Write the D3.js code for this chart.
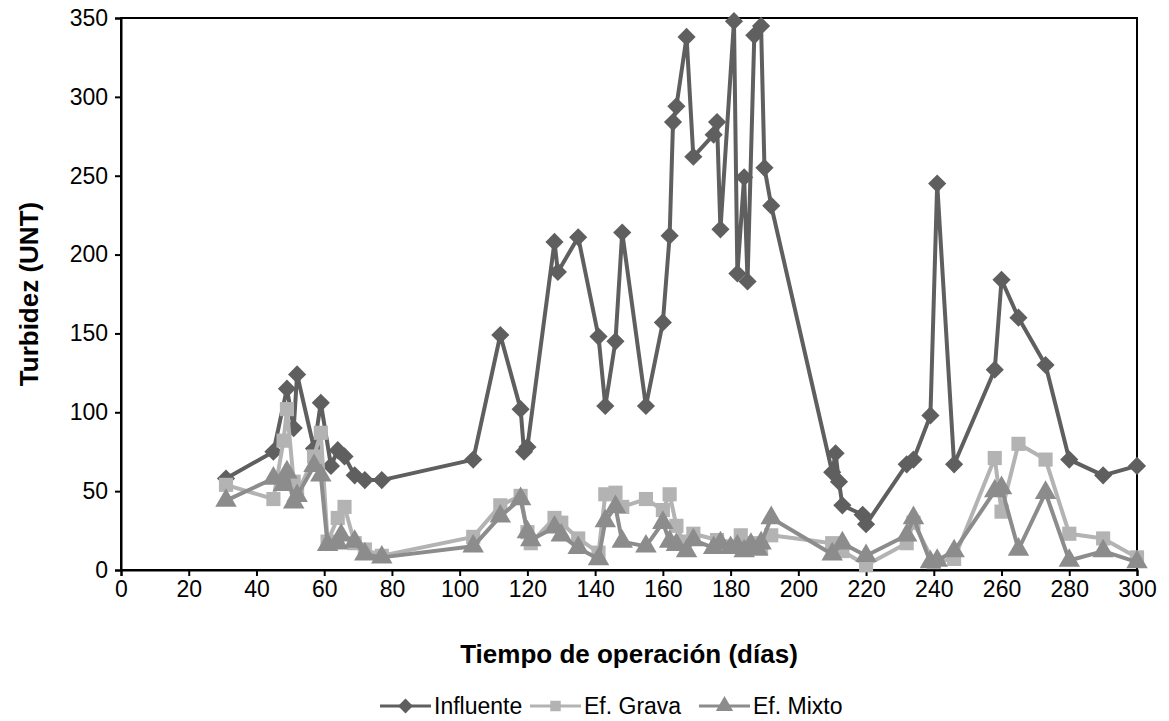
<!DOCTYPE html>
<html>
<head>
<meta charset="utf-8">
<script src="https://cdn.jsdelivr.net/npm/d3@7"></script>
<style>
  body { margin: 0; background: #fff; }
  svg { font-family: "Liberation Sans", Arial, sans-serif; }
</style>
</head>
<body>
<div id="chart"></div>
<script>
// Influente
var daysInf = [31, 45, 49, 51, 52, 57, 59, 62, 64, 66, 69, 72, 77, 104, 112, 118, 119, 120, 128, 129, 135, 141, 143, 146, 148, 155, 160, 162, 163, 164, 167, 169, 175, 176, 177, 181, 182, 184, 185, 187, 189, 190, 192, 210, 211, 212, 213, 219, 220, 232, 234, 239, 241, 246, 258, 260, 265, 273, 280, 290, 300];
var influente = [58, 75, 115, 90, 124, 77, 106, 66, 76, 72, 60, 57, 57, 70, 149, 102, 75, 78, 208, 189, 211, 148, 104, 145, 214, 104, 157, 212, 284, 294, 338, 262, 276, 284, 216, 348, 188, 249, 183, 339, 345, 255, 231, 62, 74, 56, 41, 35, 29, 67, 70, 98, 245, 67, 127, 184, 160, 130, 70, 60, 66];

// Ef. Grava
var daysGrava = [31, 45, 48, 49, 51, 52, 57, 59, 61, 64, 66, 69, 72, 77, 104, 112, 118, 120, 121, 128, 130, 135, 141, 143, 146, 148, 155, 160, 162, 164, 166, 169, 176, 180, 183, 186, 189, 192, 210, 213, 220, 232, 234, 240, 246, 258, 260, 265, 273, 280, 290, 300];
var grava = [54, 45, 82, 102, 56, 48, 72, 87, 18, 33, 40, 17, 13, 9, 21, 41, 47, 24, 17, 33, 30, 20, 11, 48, 49, 40, 45, 38, 48, 28, 18, 23, 19, 15, 22, 17, 14, 22, 17, 12, 3, 17, 30, 5, 7, 71, 37, 80, 70, 23, 20, 8];

// Ef. Mixto
var daysMixto = [31, 45, 48, 49, 51, 52, 57, 59, 61, 64, 65, 69, 72, 77, 104, 112, 118, 120, 121, 128, 130, 135, 141, 143, 146, 148, 155, 160, 162, 164, 167, 169, 175, 177, 180, 182, 184, 186, 188, 189, 192, 210, 213, 220, 232, 234, 239, 241, 246, 258, 260, 265, 273, 280, 290, 300];
var mixto = [44, 58, 54, 62, 43, 47, 66, 60, 16, 17, 22, 18, 10, 8, 15, 34, 45, 24, 19, 27, 22, 14, 7, 31, 40, 18, 15, 30, 18, 16, 12, 19, 14, 17, 14, 15, 12, 16, 13, 17, 33, 10, 17, 9, 22, 33, 5, 6, 12, 50, 52, 13, 49, 6, 12, 5];

var xTicks = [0, 20, 40, 60, 80, 100, 120, 140, 160, 180, 200, 220, 240, 260, 280, 300];
var yTicks = [0, 50, 100, 150, 200, 250, 300, 350];

var width = 1169, height = 721;
var margin = {left: 121, right: 32, top: 18, bottom: 151};
var font = '"Liberation Sans", Arial, sans-serif';

var svg = d3.select('#chart').append('svg').attr('width', width).attr('height', height);

var x = d3.scaleLinear().domain([0, 300]).range([margin.left, width - margin.right]);
var y = d3.scaleLinear().domain([0, 350]).range([height - margin.bottom, margin.top]);

// plot frame (top and right)
svg.append('rect')
   .attr('x', x(0)).attr('y', y(350))
   .attr('width', x(300) - x(0)).attr('height', y(0) - y(350))
   .attr('fill', 'none').attr('stroke', '#000').attr('stroke-width', 2);

var xAxis = svg.append('g')
   .attr('transform', 'translate(0,' + y(0) + ')')
   .call(d3.axisBottom(x).tickValues(xTicks).tickSize(6).tickPadding(5).tickFormat(d3.format('d')));
var yAxis = svg.append('g')
   .attr('transform', 'translate(' + x(0) + ',0)')
   .call(d3.axisLeft(y).tickValues(yTicks).tickSize(6).tickPadding(7).tickFormat(d3.format('d')));

[xAxis, yAxis].forEach(function(a) {
   a.attr('font-size', 23).attr('font-family', font);
   a.selectAll('path').attr('stroke', '#000').attr('stroke-width', 2);
   a.selectAll('line').attr('stroke', '#000').attr('stroke-width', 2);
   a.selectAll('text').attr('fill', '#000');
});

svg.append('text')
   .attr('x', (x(0) + x(300)) / 2).attr('y', 663)
   .attr('text-anchor', 'middle').attr('font-size', 26).attr('font-weight', 'bold')
   .text('Tiempo de operación (días)');

svg.append('text')
   .attr('transform', 'translate(38,' + ((y(0) + y(350)) / 2) + ') rotate(-90)')
   .attr('text-anchor', 'middle').attr('font-size', 26).attr('font-weight', 'bold')
   .text('Turbidez (UNT)');

var series = [
   {name: 'Influente', days: daysInf, values: influente, color: '#5f5f5f', symbol: d3.symbolSquare, size: 165, rot: 45},
   {name: 'Ef. Grava', days: daysGrava, values: grava, color: '#b3b3b3', symbol: d3.symbolSquare, size: 200, rot: 0},
   {name: 'Ef. Mixto', days: daysMixto, values: mixto, color: '#8c8c8c', symbol: d3.symbolTriangle, size: 200, rot: 0}
];

var line = d3.line().x(function(d) { return x(d[0]); }).y(function(d) { return y(d[1]); });

// Influente first, then Grava, Mixto on top
series.forEach(function(s) {
   var pts = s.days.map(function(d, j) { return [d, s.values[j]]; });
   var g = svg.append('g');
   g.append('path').datum(pts)
    .attr('d', line).attr('fill', 'none')
    .attr('stroke', s.color).attr('stroke-width', 4).attr('stroke-linejoin', 'round');
   g.selectAll('path.pt').data(pts).enter().append('path')
    .attr('class', 'pt')
    .attr('transform', function(d) { return 'translate(' + x(d[0]) + ',' + y(d[1]) + ') rotate(' + s.rot + ')'; })
    .attr('d', d3.symbol().type(s.symbol).size(s.size))
    .attr('fill', s.color);
});

// legend
var legendX = [380, 530, 699];
var leg = svg.append('g').attr('transform', 'translate(0,706)');
series.forEach(function(s, i) {
   var lx = legendX[i];
   leg.append('line').attr('x1', lx).attr('x2', lx + 51).attr('y1', 0).attr('y2', 0)
      .attr('stroke', s.color).attr('stroke-width', 3);
   leg.append('path').attr('transform', 'translate(' + (lx + 25.5) + ',0) rotate(' + s.rot + ')')
      .attr('d', d3.symbol().type(s.symbol).size(s.symbol === d3.symbolTriangle ? 130 : 110)).attr('fill', s.color);
   leg.append('text').attr('x', lx + 54).attr('y', 8).attr('font-size', 23).attr('fill', '#000').text(s.name);
});
</script>
</body>
</html>
